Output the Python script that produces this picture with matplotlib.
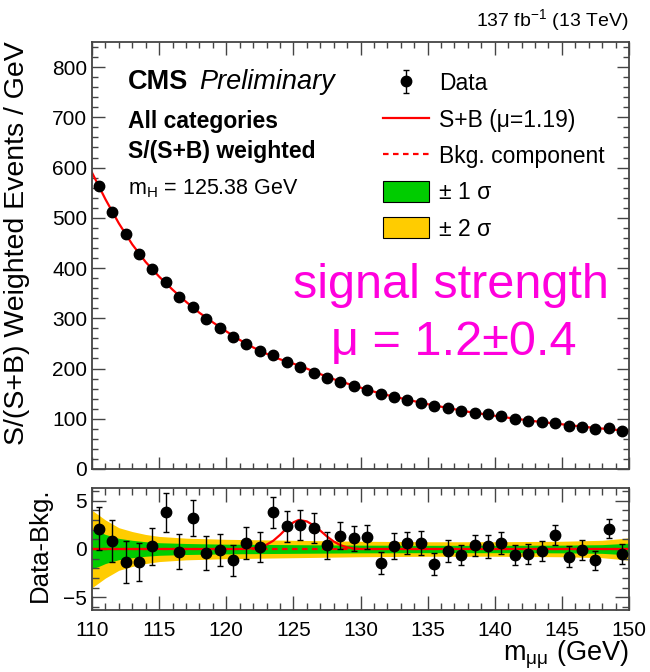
import numpy as np
import matplotlib
matplotlib.use("Agg")
import matplotlib.pyplot as plt
from matplotlib.lines import Line2D
from matplotlib.patches import Patch
from matplotlib.ticker import MultipleLocator

plt.rcParams['font.family'] = ['Liberation Sans', 'DejaVu Sans']
plt.rcParams['mathtext.fontset'] = 'custom'
plt.rcParams['mathtext.rm'] = 'Liberation Sans'
plt.rcParams['mathtext.it'] = 'Liberation Sans:italic'
plt.rcParams['mathtext.bf'] = 'Liberation Sans:bold'

# ---- data ----
mass = np.arange(110.5, 150, 1.0)
events = [563, 512, 467, 428, 398, 372, 342, 323, 298, 281,
          262, 249, 235, 226, 213, 203, 192, 182, 174, 166,
          158, 149, 143, 138, 132, 125, 121, 116, 112, 109,
          106, 99, 96, 93, 91, 86, 83, 79, 81, 76]

resid = [2.09, 0.82, -1.34, -1.34, 0.27, 3.77, -0.27, 3.22, -0.45, -0.10,
         -1.16, 0.62, 0.21, 3.77, 2.33, 2.50, 2.19, 0.38, 1.37, 1.10,
         1.23, -1.47, 0.31, 0.62, 0.65, -1.58, -0.21, -0.62, 0.38, 0.27,
         0.62, -0.58, -0.51, -0.21, 1.47, -0.79, -0.07, -1.16, 2.09, -0.48]
resid_err = [2.2, 2.2, 2.15, 1.95, 1.95, 1.97, 1.8, 1.88, 1.75, 1.68,
             1.6, 1.7, 1.52, 1.56, 1.56, 1.52, 1.54, 1.42, 1.42, 1.3,
             1.2, 1.15, 1.3, 1.15, 1.25, 1.15, 1.1, 1.08, 1.1, 1.15,
             1.15, 1.03, 1.06, 1.0, 1.03, 1.08, 1.03, 0.98, 1.0, 1.04]

# background fit, sampled at the bin edges
fit_x = np.arange(110, 151, 1.0)
fit_bkg = [590, 537, 489, 447, 412, 383, 357, 333, 311, 292,
           274, 257, 242, 229, 217, 207, 197, 187, 178, 170,
           162, 154, 147, 141, 135, 129, 124, 119, 114, 110,
           106, 102, 98.5, 95, 92, 89, 86, 83, 80.5, 78, 76]

# signal component (S+B minus B)
sig_x = [110, 121, 122, 122.5, 123, 123.5, 124, 124.5, 125, 125.4, 126,
         126.5, 127, 127.5, 128, 128.5, 129, 129.5, 130, 150]
sig_y = [0, 0.0, 0.08, 0.2, 0.45, 0.85, 1.45, 2.15, 2.75, 3.0, 2.85,
         2.45, 1.9, 1.3, 0.78, 0.4, 0.17, 0.06, 0.0, 0]

# uncertainty bands on the background fit
band_x = [110, 110.5, 111, 112, 113, 114, 115, 117, 120, 125, 130, 135, 140, 145, 148, 150]
band_1s = [2.05, 1.8, 1.5, 1.1, 0.9, 0.75, 0.65, 0.57, 0.5, 0.45, 0.4, 0.38, 0.38, 0.4, 0.45, 0.6]
band_2s = [4.0, 3.5, 3.0, 2.2, 1.8, 1.5, 1.3, 1.12, 1.0, 0.9, 0.8, 0.75, 0.75, 0.8, 0.9, 1.15]

W, H = 650, 672
fig = plt.figure(figsize=(W / 100, H / 100), dpi=100)


def box(l, t, r, b):
    return [l / W, 1 - b / H, (r - l) / W, (b - t) / H]


def fx(px):
    return px / W


def fy(py):
    return 1 - py / H


ax = fig.add_axes(box(92, 42, 629, 469))
rax = fig.add_axes(box(92, 488, 629, 610))

green = '#00cc00'
yellow = '#ffcc00'
magenta = '#ff00dd'
frame = '#444444'

# upper panel
ax.plot(fit_x, np.array(fit_bkg) + np.interp(fit_x, sig_x, sig_y), color='red', lw=1.6, zorder=2)
data_h = ax.errorbar(mass, events, yerr=resid_err, fmt='o', color='black', ms=7.5,
                     elinewidth=1, capsize=2.5, zorder=3)
ax.set_xlim(110, 150)
ax.set_ylim(0, 850)

# lower panel
b1l = np.array(band_1s)
b2l = np.array(band_2s)
rax.fill_between(band_x, -b2l, b2l, color=yellow, lw=0, zorder=1)
rax.fill_between(band_x, -b1l, b1l, color=green, lw=0, zorder=1)
rax.plot(sig_x, sig_y, color='red', lw=1.6, zorder=2)
rax.plot([110, 150], [0, 0], color='red', lw=1.6, ls=(0, (2.5, 2)), zorder=2)
rax.errorbar(mass, resid, yerr=resid_err, fmt='o', color='black', ms=7.5,
             elinewidth=1, capsize=2.5, zorder=3)
rax.set_xlim(110, 150)
rax.set_ylim(-6.3, 6.3)

for a in (ax, rax):
    a.xaxis.set_major_locator(MultipleLocator(5))
    a.xaxis.set_minor_locator(MultipleLocator(1))
    a.tick_params(which='both', direction='in', top=True, right=True,
                  labelsize=15, color=frame, width=1)
    for s in a.spines.values():
        s.set_color(frame)
        s.set_linewidth(1.3)
ax.yaxis.set_major_locator(MultipleLocator(100))
ax.yaxis.set_minor_locator(MultipleLocator(20))
ax.tick_params(which='major', length=9)
ax.tick_params(which='minor', length=4.5)
ax.tick_params(axis='x', labelbottom=False)
rax.yaxis.set_major_locator(MultipleLocator(5))
rax.yaxis.set_minor_locator(MultipleLocator(1))
rax.tick_params(which='major', length=10)
rax.tick_params(which='minor', length=5)
rax.tick_params(axis='x', pad=8)
rax.set_yticks([-5, 0, 5])
rax.set_yticklabels(['\u22125', '0', '5'])

# axis titles
fig.text(fx(17), fy(41), 'S/(S+B) Weighted Events / GeV', rotation=90,
         ha='center', va='top', fontsize=20.5)
fig.text(fx(40), fy(487), 'Data-Bkg.', rotation=90, ha='center', va='top', fontsize=18.5)
fig.text(fx(629), fy(655), 'm$_{\\mathrm{\u03bc\u03bc}}$ (GeV)', ha='right', va='center', fontsize=19.5)
fig.text(fx(629), fy(26), r'137 fb$^{-1}$ (13 TeV)', ha='right', va='baseline', fontsize=14)

# labels inside the frame
fig.text(fx(128), fy(89), 'CMS', fontweight='bold', fontsize=19.5, va='baseline')
fig.text(fx(199), fy(89), 'Preliminary', fontstyle='italic', fontsize=19.5, va='baseline')
fig.text(fx(128), fy(128), 'All categories', fontweight='bold', fontsize=16.5, va='baseline')
fig.text(fx(128), fy(158), 'S/(S+B) weighted', fontweight='bold', fontsize=16.5, va='baseline')
fig.text(fx(128), fy(194), r'm$_{\mathrm{H}}$ = 125.38 GeV', fontsize=15.5, va='baseline')
fig.text(fx(451), fy(286), 'signal strength', color=magenta, fontsize=35, ha='center', va='center')
fig.text(fx(454), fy(343), '\u03bc = 1.2\u00b10.4', color=magenta, fontsize=35, ha='center', va='center')

handles = [
    data_h,
    Line2D([], [], color='red', lw=1.6),
    Line2D([], [], color='red', lw=1.6, ls=(0, (2.5, 2))),
    Patch(facecolor=green, edgecolor='black', lw=0.8),
    Patch(facecolor=yellow, edgecolor='black', lw=0.8),
]
labels = ['Data', 'S+B (\u03bc=1.19)', 'Bkg. component', '\u00b1 1 \u03c3', '\u00b1 2 \u03c3']
leg = ax.legend(handles, labels, loc='upper left', bbox_to_anchor=(fx(383), fy(72)),
                bbox_transform=fig.transFigure, frameon=False, fontsize=16.5,
                borderaxespad=0, borderpad=0, handlelength=2.0, handleheight=1.05,
                handletextpad=0.45, labelspacing=0.56)

fig.savefig('out.png', dpi=100)
